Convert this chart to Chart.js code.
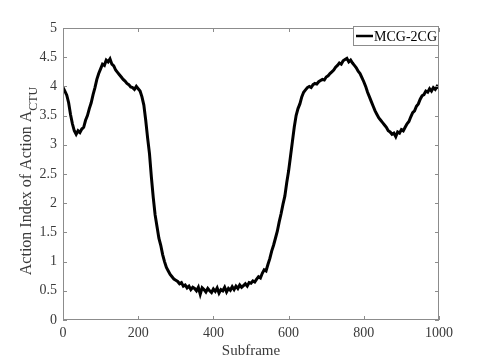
<!DOCTYPE html>
<html>
<head>
<meta charset="utf-8">
<script src="https://cdn.jsdelivr.net/npm/chart.js@4"></script>
<style>
    html, body { margin: 0; padding: 0; background: #fff; }
    canvas { display: block; }
</style>
</head>
<body>
<canvas id="actionChart" width="485" height="360"></canvas>
<script>
/* ======================
   DATA
====================== */
const seriesName = "MCG-2CG";
const subframeStart = 0;
const subframeStep = 5;

// action index, one value every 5 subframes (0 .. 1000)
const actionIndex = [
    3.98, 3.92, 3.85, 3.72, 3.52, 3.36, 3.24, 3.18, 3.24, 3.21, 3.27,
    3.30, 3.42, 3.50, 3.62, 3.72, 3.86, 3.98, 4.12, 4.22, 4.30,
    4.38, 4.36, 4.45, 4.42, 4.47, 4.38, 4.35, 4.28, 4.24, 4.20,
    4.16, 4.12, 4.09, 4.05, 4.03, 3.99, 3.98, 3.95, 4.00, 3.96,
    3.92, 3.82, 3.68, 3.42, 3.12, 2.85, 2.45, 2.10, 1.80, 1.60,
    1.40, 1.28, 1.12, 1.00, 0.90, 0.84, 0.78, 0.74, 0.70, 0.68,
    0.66, 0.62, 0.64, 0.58, 0.60, 0.55, 0.58, 0.52, 0.56, 0.54,
    0.50, 0.56, 0.44, 0.55, 0.52, 0.48, 0.54, 0.50, 0.47, 0.53,
    0.49, 0.55, 0.46, 0.52, 0.50, 0.56, 0.48, 0.54, 0.51, 0.57,
    0.52, 0.58, 0.54, 0.60, 0.56, 0.59, 0.62, 0.58, 0.64, 0.63,
    0.67, 0.65, 0.70, 0.74, 0.72, 0.80, 0.86, 0.84, 0.95, 1.05,
    1.18, 1.28, 1.40, 1.52, 1.68, 1.82, 1.98, 2.12, 2.35, 2.55,
    2.80, 3.05, 3.30, 3.50, 3.62, 3.70, 3.82, 3.90, 3.94, 3.98,
    4.00, 3.98, 4.03, 4.05, 4.04, 4.08, 4.10, 4.12, 4.11, 4.16,
    4.18, 4.22, 4.25, 4.28, 4.33, 4.36, 4.40, 4.38, 4.44, 4.46,
    4.48, 4.42, 4.45, 4.40, 4.36, 4.32, 4.26, 4.22, 4.15, 4.08,
    4.00, 3.90, 3.82, 3.74, 3.66, 3.58, 3.52, 3.46, 3.42, 3.38,
    3.34, 3.30, 3.24, 3.22, 3.18, 3.20, 3.14, 3.22, 3.20, 3.26,
    3.24, 3.30, 3.36, 3.40, 3.48, 3.55, 3.58, 3.66, 3.70, 3.78,
    3.84, 3.86, 3.92, 3.90, 3.96, 3.92, 3.98, 3.95, 4.00, 3.97
];

const xTicks = [0, 200, 400, 600, 800, 1000];
const yTicks = [0, 0.5, 1, 1.5, 2, 2.5, 3, 3.5, 4, 4.5, 5];

const points = actionIndex.map((v, i) => ({ x: subframeStart + i * subframeStep, y: v }));

/* ======================
   MATLAB STYLE FRAME
====================== */
const serif = "'Liberation Serif', 'Times New Roman', serif";
const axisColor = "#8c8c8c";
const textColor = "#3a3a3a";

const matlabFrame = {
    id: "matlabFrame",
    afterDraw(chart) {
        const ctx = chart.ctx;
        const area = chart.chartArea;
        const xs = chart.scales.x;
        const ys = chart.scales.y;

        ctx.save();
        // box + inward ticks
        ctx.strokeStyle = axisColor;
        ctx.lineWidth = 1;
        ctx.strokeRect(area.left + 0.5, area.top + 0.5, area.right - area.left - 1, area.bottom - area.top - 1);
        ctx.beginPath();
        xTicks.forEach(t => {
            const px = Math.round(xs.getPixelForValue(t)) + 0.5;
            ctx.moveTo(px, area.bottom); ctx.lineTo(px, area.bottom - 4);
            ctx.moveTo(px, area.top); ctx.lineTo(px, area.top + 4);
        });
        yTicks.forEach(t => {
            const py = Math.round(ys.getPixelForValue(t)) + 0.5;
            ctx.moveTo(area.left, py); ctx.lineTo(area.left + 4, py);
            ctx.moveTo(area.right, py); ctx.lineTo(area.right - 4, py);
        });
        ctx.stroke();

        // x axis title
        ctx.fillStyle = textColor;
        ctx.font = "15px " + serif;
        ctx.textAlign = "center";
        ctx.textBaseline = "middle";
        ctx.fillText("Subframe", (area.left + area.right) / 2, 351);

        // y axis title with subscript
        ctx.translate(27, 181);
        ctx.rotate(-Math.PI / 2);
        const main = "Action Index of Action A";
        const sub = "CTU";
        ctx.font = "16px " + serif;
        const wMain = ctx.measureText(main).width;
        ctx.font = "12px " + serif;
        const wSub = ctx.measureText(sub).width;
        const start = -(wMain + wSub) / 2;
        ctx.textAlign = "left";
        ctx.font = "16px " + serif;
        ctx.fillText(main, start, 0);
        ctx.font = "12px " + serif;
        ctx.fillText(sub, start + wMain, 7);
        ctx.restore();

        // legend
        ctx.save();
        const lx = 353, ly = 26, lw = area.right - lx, lh = 20;
        ctx.fillStyle = "#fff";
        ctx.fillRect(lx, ly, lw, lh);
        ctx.strokeStyle = axisColor;
        ctx.lineWidth = 1;
        ctx.strokeRect(lx + 0.5, ly + 0.5, lw - 1, lh - 1);
        ctx.strokeStyle = "#000";
        ctx.lineWidth = 2.5;
        ctx.beginPath();
        ctx.moveTo(lx + 3, ly + lh / 2);
        ctx.lineTo(lx + 20, ly + lh / 2);
        ctx.stroke();
        ctx.fillStyle = "#000";
        ctx.font = "14px " + serif;
        ctx.textBaseline = "middle";
        ctx.fillText(seriesName, lx + 21, ly + lh / 2 + 1);
        ctx.restore();
    }
};

/* ======================
   CHART
====================== */
const chartCanvas = document.getElementById("actionChart");

new Chart(chartCanvas, {
    type: "line",
    data: {
        datasets: [{
            label: seriesName,
            data: points,
            borderColor: "#000",
            borderWidth: 3,
            pointRadius: 0,
            tension: 0,
            fill: false
        }]
    },
    options: {
        responsive: false,
        animation: false,
        layout: { padding: { top: 28, right: 46, bottom: 0, left: 0 } },
        plugins: {
            legend: { display: false },
            tooltip: { enabled: false }
        },
        scales: {
            x: {
                type: "linear",
                min: 0,
                max: 1000,
                afterFit: s => { s.height = 40; },
                afterBuildTicks: s => { s.ticks = xTicks.map(v => ({ value: v })); },
                grid: { display: false, drawTicks: false, tickLength: 0 },
                border: { display: false },
                ticks: {
                    color: textColor, padding: 5, maxRotation: 0,
                    font: { family: serif, size: 14 },
                    callback: v => String(v)
                }
            },
            y: {
                min: 0,
                max: 5,
                afterFit: s => { s.width = 63; },
                afterBuildTicks: s => { s.ticks = yTicks.map(v => ({ value: v })); },
                grid: { display: false, drawTicks: false, tickLength: 0 },
                border: { display: false },
                ticks: {
                    color: textColor, padding: 6,
                    font: { family: serif, size: 14 },
                    callback: v => String(v)
                }
            }
        }
    },
    plugins: [matlabFrame]
});
</script>
</body>
</html>
